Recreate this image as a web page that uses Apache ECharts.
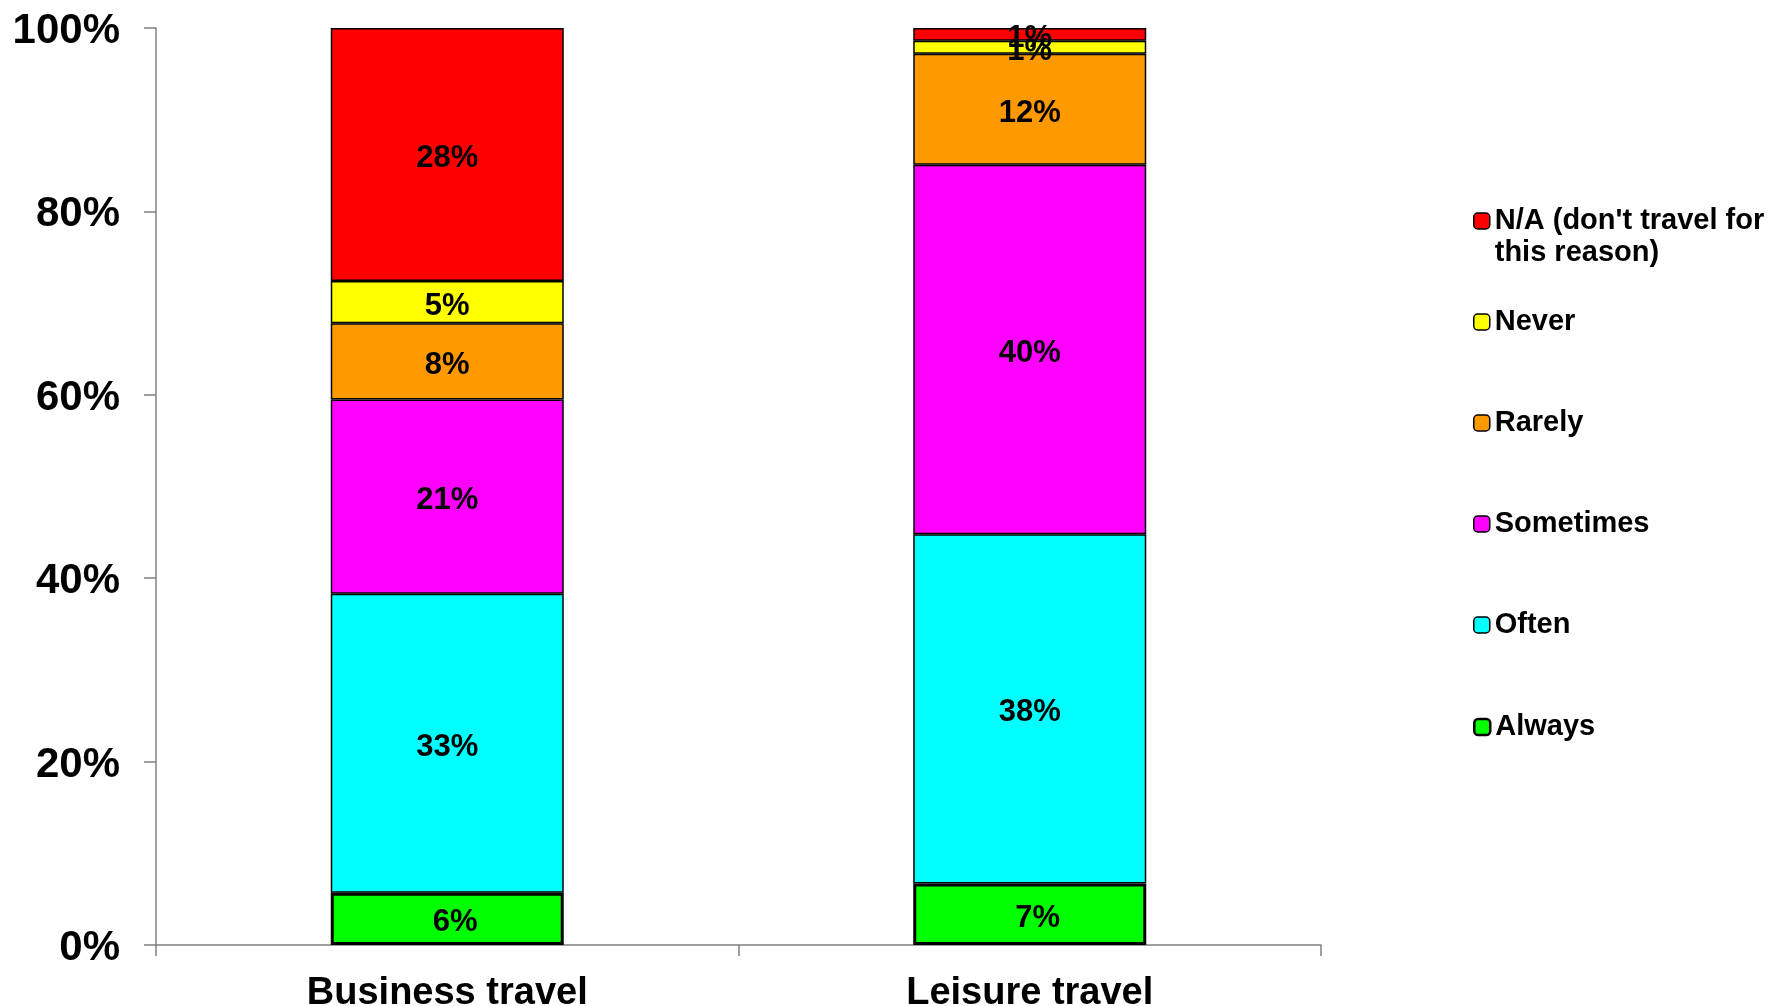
<!DOCTYPE html>
<html>
<head>
<meta charset="utf-8">
<script src="https://cdn.jsdelivr.net/npm/echarts@6/dist/echarts.min.js"></script>
<style>
  html, body { margin: 0; padding: 0; background: #fff; }
  #chart { width: 1787px; height: 1006px; }
</style>
</head>
<body>
<div id="chart"></div>
<script>
// Travel frequency by reason, 100% stacked (values in percent of respondents)
const categories = ['Business travel', 'Leisure travel'];
const alwaysVals    = [5.7, 6.7];
const oftenVals     = [32.6, 38.1];
const sometimesVals = [21.2, 40.3];
const rarelyVals    = [8.3, 12.1];
const neverVals     = [4.6, 1.4];
const naVals        = [27.6, 1.4];

const NA_NAME = "N/A (don't travel for this reason)";
const seriesNames = ['Always', 'Often', 'Sometimes', 'Rarely', 'Never', NA_NAME];
const seriesColors = ['#00FF00', '#00FFFF', '#FF00FF', '#FF9900', '#FFFF00', '#FF0000'];
const seriesValues = [alwaysVals, oftenVals, sometimesVals, rarelyVals, neverVals, naVals];

// y axis: 0% .. 100% in steps of 20
const yMin = 0, yMax = 100, yStep = 20;

// legend rows, top to bottom
const legendRows = [NA_NAME, 'Never', 'Rarely', 'Sometimes', 'Often', 'Always'];

const FONT = '"Liberation Sans", Arial, Helvetica, sans-serif';
const axisGray = '#808080';

const series = seriesNames.map((name, i) => ({
  name: name,
  type: 'bar',
  stack: 'total',
  barWidth: '40%',
  data: seriesValues[i],
  itemStyle: {
    color: seriesColors[i],
    borderColor: '#000',
    borderWidth: name === 'Always' ? 3 : 1.5
  },
  label: {
    show: true,
    position: 'inside',
    offset: name === 'Always' ? [8, 4] : [0, 4],
    formatter: p => Math.round(p.value) + '%',
    color: '#000',
    fontFamily: FONT,
    fontSize: 31,
    fontWeight: 'bold',
    textBorderWidth: 0
  },
  emphasis: { disabled: true },
  animation: false
}));

// one legend block per row so every row sits at its own height;
// the two-line entry gets a blank leading line so its first line sits level with the swatch
const LINE_H = 32;
const rowCenters = [221, 322, 423, 524, 625, 727];
const legends = legendRows.map((name, i) => {
  const twoLine = name === NA_NAME;
  return {
    data: [name],
    orient: 'vertical',
    left: 1473,
    top: twoLine ? rowCenters[i] - 1.5 * LINE_H : rowCenters[i] - LINE_H / 2,
    padding: 0,
    itemWidth: 16,
    itemHeight: 16,
    selectedMode: false,
    formatter: n => n === NA_NAME ? "\nN/A (don't travel for\nthis reason)" : n,
    itemStyle: { borderColor: '#000', borderWidth: name === 'Always' ? 2.5 : 1.5 },
    textStyle: {
      color: '#000',
      fontFamily: FONT,
      fontSize: 29,
      fontWeight: 'bold',
      lineHeight: LINE_H
    }
  };
});

const chart = echarts.init(document.getElementById('chart'), null, { renderer: 'canvas' });
chart.setOption({
  backgroundColor: '#fff',
  animation: false,
  grid: { left: 156, right: 466, top: 28, bottom: 61, containLabel: false, outerBoundsMode: 'none' },
  legend: legends,
  xAxis: {
    type: 'category',
    data: categories,
    axisLine: { lineStyle: { color: axisGray, width: 1.5 } },
    axisTick: { show: true, length: 11, lineStyle: { color: axisGray, width: 1.5 } },
    axisLabel: {
      color: '#000',
      fontFamily: FONT,
      fontSize: 38,
      fontWeight: 'bold',
      margin: 30
    }
  },
  yAxis: {
    type: 'value',
    min: yMin,
    max: yMax,
    interval: yStep,
    splitLine: { show: false },
    axisLine: { show: true, lineStyle: { color: axisGray, width: 1.5 } },
    axisTick: { show: true, length: 12, lineStyle: { color: axisGray, width: 1.5 } },
    axisLabel: {
      formatter: '{value}%',
      color: '#000',
      fontFamily: FONT,
      fontSize: 42,
      fontWeight: 'bold',
      margin: 36,
      verticalAlign: 'top',
      lineHeight: 7
    }
  },
  series: series
});
</script>
</body>
</html>
